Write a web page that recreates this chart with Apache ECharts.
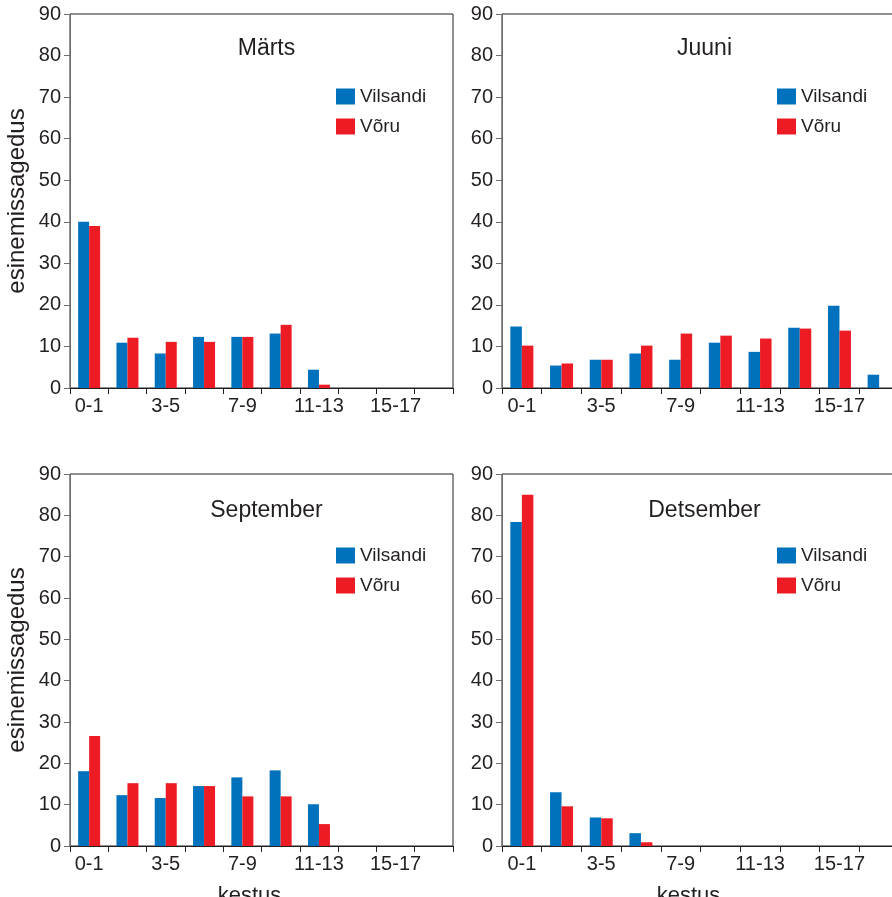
<!DOCTYPE html>
<html>
<head>
<meta charset="utf-8">
<script src="https://cdn.jsdelivr.net/npm/echarts@6/dist/echarts.min.js"></script>
<style>
html,body{margin:0;padding:0;background:#fff;}
#chart{width:892px;height:897px;}
</style>
</head>
<body>
<div id="chart"></div>
<script>
var categories = ['0-1','1-3','3-5','5-7','7-9','9-11','11-13','13-15','15-17','17-19'];
var panelTitles = ['Märts','Juuni','September','Detsember'];
var seriesNames = ['Vilsandi','Võru'];
var yTicks = [0,10,20,30,40,50,60,70,80,90];

var martsVilsandi = [40.0,10.9,8.3,12.3,12.3,13.1,4.4,0,0,0];
var martsVoru     = [39.0,12.1,11.1,11.1,12.3,15.2,0.8,0,0,0];
var juuniVilsandi = [14.8,5.4,6.8,8.3,6.8,10.9,8.7,14.5,19.8,3.2];
var juuniVoru     = [10.2,5.9,6.8,10.2,13.1,12.6,11.9,14.3,13.8,0];
var septVilsandi  = [18.1,12.3,11.6,14.5,16.6,18.3,10.1,0,0,0];
var septVoru      = [26.6,15.2,15.2,14.5,12.0,12.0,5.3,0,0,0];
var detsVilsandi  = [78.4,13.0,6.9,3.1,0,0,0,0,0,0];
var detsVoru      = [85.0,9.6,6.7,0.9,0,0,0,0,0,0];

var panelData = [
  [martsVilsandi, martsVoru],
  [juuniVilsandi, juuniVoru],
  [septVilsandi, septVoru],
  [detsVilsandi, detsVoru]
];

var BLUE = '#0071bc', RED = '#ed1c24', INK = '#231f20';
var FONT = '"Liberation Sans", Arial, sans-serif';

var grids = [
  {left:70, top:14, width:383, height:374},
  {left:502, top:14, width:397, height:374},
  {left:70, top:474, width:383, height:372},
  {left:502, top:474, width:397, height:372}
];

var option = {
  backgroundColor:'#fff',
  animation:false,
  grid: grids.map(function(g){ return Object.assign({show:true, borderColor:INK, borderWidth:1, backgroundColor:'transparent', containLabel:false, outerBoundsMode:'none'}, g); }),
  title: [], legend: [], xAxis: [], yAxis: [], series: []
};

grids.forEach(function(g, i){
  var bottomRow = i >= 2, leftCol = (i % 2 === 0);
  option.title.push({
    text: panelTitles[i], left: g.left + g.width/2 - (leftCol ? 0 : 1), top: g.top + (bottomRow ? 20 : 18), textAlign:'center',
    textStyle:{fontFamily:FONT, fontSize:23, fontWeight:'normal', color:INK}
  });
  option.legend.push({
    data: seriesNames, orient:'vertical', left: g.left + (leftCol ? 266 : 275), top: g.top + (bottomRow ? 72 : 73),
    padding:0, itemWidth:19, itemHeight:16, itemGap:11, icon:'rect', selectedMode:false,
    textStyle:{fontFamily:FONT, fontSize:19, color:INK}
  });
  option.xAxis.push({
    type:'category', gridIndex:i, data:categories,
    axisLine:{lineStyle:{color:INK, width:1}},
    axisTick:{show:true, interval:0, length:6, inside:false, lineStyle:{color:INK}},
    axisLabel:{interval:1, fontFamily:FONT, fontSize:20, color:INK, margin:8},
    name: bottomRow ? 'kestus' : '', nameLocation:'middle', nameGap:39,
    nameTextStyle:{fontFamily:FONT, fontSize:22, color:INK, padding:[0,24,0,0]}
  });
  option.yAxis.push({
    type:'value', gridIndex:i, min:0, max:90, interval:10,
    splitLine:{show:false},
    axisLine:{show:true, lineStyle:{color:'#6d6e71', width:1}},
    axisTick:{show:true, length:6, lineStyle:{color:'#6d6e71'}},
    axisLabel:{fontFamily:FONT, fontSize:20, color:INK, margin:9,
      formatter:function(v){ return yTicks.indexOf(v) >= 0 ? String(v) : ''; }},
    name: leftCol ? 'esinemissagedus' : '', nameLocation:'middle', nameGap:41, nameRotate:90,
    nameTextStyle:{fontFamily:FONT, fontSize:24, color:INK}
  });
  var bw = leftCol ? 11 : 11.5;
  seriesNames.forEach(function(name, k){
    option.series.push({
      type:'bar', name:name, xAxisIndex:i, yAxisIndex:i, data:panelData[i][k],
      barWidth:bw, barGap:'0%',
      itemStyle:{color: k === 0 ? BLUE : RED}
    });
  });
});

var chart = echarts.init(document.getElementById('chart'), null, {renderer:'canvas'});
chart.setOption(option);
</script>
</body>
</html>
